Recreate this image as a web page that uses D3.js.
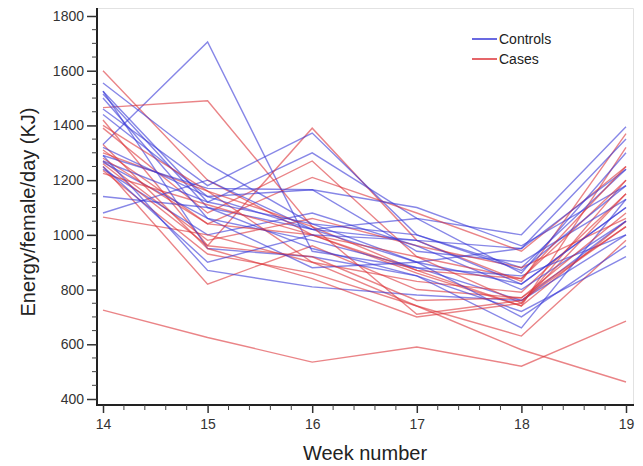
<!DOCTYPE html>
<html>
<head>
<meta charset="utf-8">
<script src="https://cdn.jsdelivr.net/npm/d3@7"></script>
<style>
  body { margin: 0; background: #fff; }
  text { font-family: "Liberation Sans", Arial, sans-serif; }
  .tick text { font-size: 14px; fill: #333; }
</style>
</head>
<body>
<div id="chart"></div>
<script>
const weeks = [14, 15, 16, 17, 18, 19];

// energy per female per day (KJ), one row per animal
const controls = [
  [1330, 1705, 940, 880, 760, 1050],
  [1555, 1260, 1040, 900, 820, 1100],
  [1525, 1120, 1300, 1060, 1000, 1395],
  [1515, 1100, 1020, 980, 950, 1350],
  [1460, 1180, 1372, 1000, 880, 1240],
  [1440, 1140, 1165, 1100, 960, 1180],
  [1290, 1170, 1165, 940, 900, 1130],
  [1265, 1060, 980, 880, 850, 1000],
  [1240, 1000, 1080, 960, 800, 1050],
  [1140, 1100, 950, 850, 720, 920],
  [1080, 1200, 1020, 900, 700, 960],
  [1525, 950, 920, 850, 660, 1130],
  [1290, 870, 810, 780, 760, 1000],
  [1270, 1120, 1040, 1000, 870, 1180],
  [1500, 1060, 880, 900, 950, 1240],
  [1250, 900, 1000, 980, 820, 1100],
  [1320, 1140, 1020, 1060, 860, 1300]
];

const cases = [
  [1600, 1200, 1000, 860, 740, 1320],
  [1465, 1490, 1030, 870, 740, 1050],
  [1420, 960, 1390, 980, 830, 1370],
  [1390, 1080, 1270, 920, 750, 1200],
  [1310, 1040, 1210, 1080, 940, 1250],
  [1300, 1160, 900, 830, 790, 1150],
  [1270, 980, 1060, 960, 880, 1060],
  [1250, 820, 960, 800, 770, 1030],
  [1235, 930, 860, 740, 630, 980],
  [1225, 1110, 1000, 870, 840, 1200],
  [1065, 1000, 900, 740, 580, 462],
  [725, 625, 535, 590, 520, 685],
  [1400, 1160, 1030, 710, 760, 1030],
  [1330, 950, 840, 700, 750, 1150],
  [1280, 1040, 1000, 920, 840, 1250],
  [1260, 960, 920, 760, 770, 1080]
];

const yTicks = [400, 600, 800, 1000, 1200, 1400, 1600, 1800];

const W = 643, H = 466;
const svg = d3.select("#chart").append("svg")
  .attr("width", W).attr("height", H);

const x = d3.scaleLinear().domain([14, 19]).range([103, 626]);
const y = d3.scaleLinear().domain([400, 1800]).range([399, 16]);

// light frame top / right
svg.append("path")
  .attr("d", "M97,8.5H633.5V405")
  .attr("fill", "none")
  .attr("stroke", "#e2e2e2");

const line = d3.line()
  .x((d, i) => x(weeks[i]))
  .y(d => y(d));

const groups = [
  { rows: controls, color: "rgb(55,55,215)" },
  { rows: cases, color: "rgb(220,50,55)" }
];

// draw interleaved so neither colour sits fully on top
const all = [];
const n = Math.max(controls.length, cases.length);
for (let i = 0; i < n; i++) {
  if (controls[i]) all.push({ v: controls[i], c: groups[0].color });
  if (cases[i]) all.push({ v: cases[i], c: groups[1].color });
}

svg.append("g").selectAll("path")
  .data(all)
  .enter()
  .append("path")
  .attr("d", d => line(d.v))
  .attr("fill", "none")
  .attr("stroke", d => d.c)
  .attr("stroke-opacity", 0.6)
  .attr("stroke-width", 1.4);

// y axis
const yAxis = d3.axisLeft(y).tickValues(yTicks).tickSize(10).tickPadding(3).tickFormat(d3.format("d"));
const gy = svg.append("g")
  .attr("transform", "translate(97,0)")
  .call(yAxis);
gy.select(".domain").attr("d", "M0,8V405").attr("stroke", "#222").attr("stroke-width", 2);
gy.selectAll(".tick line").attr("stroke", "#333").attr("stroke-width", 1.5);

const yMinor = d3.range(450, 1800, 50).filter(v => v % 200 !== 0);
svg.append("g").selectAll("line")
  .data(yMinor)
  .enter()
  .append("line")
  .attr("x1", 92).attr("x2", 97)
  .attr("y1", d => y(d)).attr("y2", d => y(d))
  .attr("stroke", "#444");

// x axis
const xAxis = d3.axisBottom(x).tickValues(weeks).tickSize(8).tickPadding(6).tickFormat(d3.format("d"));
const gx = svg.append("g")
  .attr("transform", "translate(0,405)")
  .call(xAxis);
gx.select(".domain").attr("d", "M96,0H634").attr("stroke", "#222").attr("stroke-width", 2);
gx.selectAll(".tick line").attr("stroke", "#333").attr("stroke-width", 1.5);

const xMinor = d3.range(14.2, 19, 0.2).filter(v => Math.abs(v - Math.round(v)) > 0.01);
svg.append("g").selectAll("line")
  .data(xMinor)
  .enter()
  .append("line")
  .attr("x1", d => x(d)).attr("x2", d => x(d))
  .attr("y1", 405).attr("y2", 410)
  .attr("stroke", "#444");

// axis labels
svg.append("text")
  .attr("x", 365).attr("y", 460)
  .attr("text-anchor", "middle")
  .attr("font-size", 20)
  .attr("fill", "#222")
  .text("Week number");

svg.append("text")
  .attr("transform", "translate(35,212) rotate(-90)")
  .attr("text-anchor", "middle")
  .attr("font-size", 20)
  .attr("fill", "#222")
  .text("Energy/female/day (KJ)");

// legend
const legend = svg.append("g");
groups.forEach((g, i) => {
  const ly = 39 + i * 20;
  legend.append("line")
    .attr("x1", 472).attr("x2", 497)
    .attr("y1", ly).attr("y2", ly)
    .attr("stroke", g.color)
    .attr("stroke-opacity", 0.75)
    .attr("stroke-width", 2);
  legend.append("text")
    .attr("x", 499).attr("y", ly + 4.5)
    .attr("font-size", 14)
    .attr("fill", "#222")
    .text(i === 0 ? "Controls" : "Cases");
});
</script>
</body>
</html>
